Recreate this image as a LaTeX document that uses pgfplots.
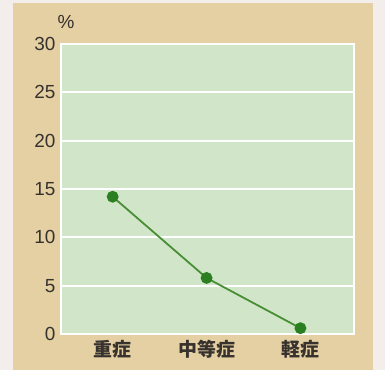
\documentclass[border=0pt]{standalone}
\usepackage{fontspec}
\setmainfont{Liberation Sans}
\newfontfamily\cjk{Noto Sans CJK JP}
\usepackage{pgfplots}
\pgfplotsset{compat=1.18}
\definecolor{beige}{RGB}{228,208,163}
\definecolor{plotgreen}{RGB}{209,229,200}
\definecolor{linegreen}{RGB}{72,142,52}
\definecolor{markgreen}{RGB}{42,128,32}
\definecolor{txt}{RGB}{55,50,45}
\definecolor{edge}{RGB}{243,238,236}
\begin{document}
\begin{tikzpicture}
\fill[edge] (-61bp,-36bp) rectangle (324bp,334bp);
\useasboundingbox (-61bp,-36bp) rectangle (324bp,334bp);
\fill[beige] (-48bp,-36bp) rectangle (312bp,331bp);
\begin{axis}[
  scale only axis,
  width=293bp, height=290bp,
  xmin=-0.55, xmax=2.57,
  ymin=0, ymax=30,
  ytick={0,5,...,30},
  xtick={0,1,2},
  xticklabels={{\cjk\bfseries 重症},{\cjk\bfseries 中等症},{\cjk\bfseries 軽症}},
  axis background/.style={fill=plotgreen},
  axis line style={draw=white, line width=1.5bp},
  ymajorgrids,
  grid style={white, line width=1.8bp},
  major tick length=0pt,
  tick style={draw=none},
  /pgf/number format/assume math mode=true,
  ticklabel style={font=\fontsize{19}{19}\selectfont, text=txt},
  yticklabel style={xshift=-2bp},
  xticklabel style={yshift=-3bp},
]
\addplot[color=linegreen, line width=1.8bp, mark=*, mark size=5bp,
  mark options={fill=markgreen, draw=markgreen}]
  coordinates {(0,14.2) (1,5.8) (2,0.6)};
\end{axis}
\node[text=txt, font=\fontsize{19}{19}\selectfont] at (5bp,312bp) {\%};
\end{tikzpicture}
\end{document}
